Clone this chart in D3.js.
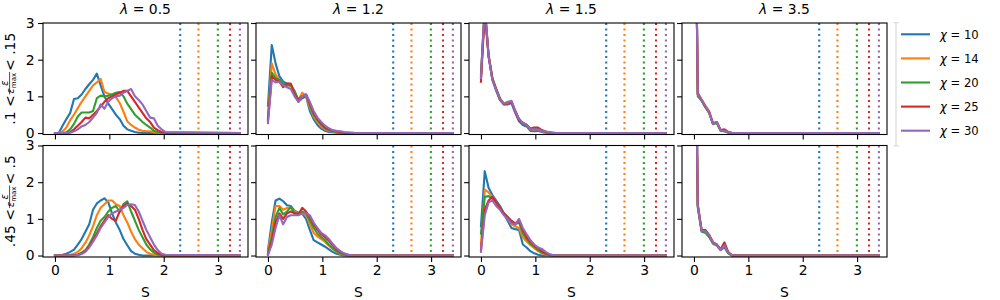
<!DOCTYPE html>
<html lang="en">
<head>
<meta charset="UTF-8">
<title>entropy histograms</title>
<script src="https://cdnjs.cloudflare.com/ajax/libs/d3/7.8.5/d3.min.js"></script>
<style>
    body { margin: 0; background: #fff; }
    svg { display: block; font-family: "DejaVu Sans", sans-serif; }
</style>
</head>
<body>
<svg width="1000" height="300"></svg>
<script>
    // ---- data ----
    const lambdas = [0.5, 1.2, 1.5, 3.5];
    const chis = [10, 14, 20, 25, 30];
    const maxS = [2.303, 2.639, 2.996, 3.219, 3.401];   // dotted lines, one per chi
    const colors = ["#1f77b4", "#ff7f0e", "#2ca02c", "#d62728", "#9467bd"];
    const xTicks = [0, 1, 2, 3];
    const yTicks = [0, 1, 2, 3];
    const rowLabels = [[".1", ".15"], [".45", ".5"]];

    // S values of the histogram points
    const sGrid = [0, 0.07, 0.14, 0.21, 0.28, 0.35, 0.42, 0.49, 0.56, 0.63, 0.7, 0.77, 0.84, 0.91, 0.98,
        1.05, 1.12, 1.19, 1.26, 1.33, 1.4, 1.47, 1.54, 1.61, 1.68, 1.75, 1.82, 1.89, 1.96, 2.03, 3.4];

    // top row: .1 < eps/epsmax < .15, one list per chi
    const low_l05 = [
        [0,0,0.2,0.38,0.55,0.93,0.95,1.05,1.2,1.33,1.45,1.62,1.3,1.0,0.8,0.65,0.5,0.38,0.2,0.1,0.06,0.03,0.01,0,0,0,0,0,0,0,0],
        [0,0,0.05,0.15,0.35,0.5,0.68,0.85,1.0,1.15,1.3,1.38,1.48,1.12,1.08,1.05,0.98,0.82,0.58,0.32,0.22,0.15,0.09,0.06,0.05,0.05,0.02,0,0,0,0],
        [0,0,0,0.02,0.1,0.25,0.45,0.56,0.56,0.56,0.6,0.95,1.02,1.0,1.02,1.05,1.1,1.12,1.0,0.8,0.65,0.5,0.4,0.3,0.22,0.15,0.06,0.02,0,0,0],
        [0,0,0,0,0.02,0.1,0.2,0.3,0.42,0.4,0.5,0.6,0.72,0.85,0.95,1.0,1.05,1.1,1.15,1.15,1.0,0.85,0.7,0.55,0.4,0.3,0.15,0.08,0.03,0.01,0],
        [0,0,0,0,0.01,0.05,0.1,0.18,0.22,0.3,0.42,0.55,0.78,0.66,0.85,0.95,1.0,1.02,1.1,1.15,1.2,1.0,0.9,0.78,0.6,0.42,0.4,0.2,0.1,0.03,0]
    ];
    const low_l12 = [
        [0.74,2.4,1.9,1.55,1.4,1.35,1.32,1.1,0.85,0.95,1.0,0.6,0.38,0.22,0.12,0.06,0.03,0.02,0.01,0,0,0,0,0,0,0,0,0,0,0,0],
        [0.43,1.9,1.6,1.45,1.35,1.3,1.3,1.1,0.9,1.1,1.0,0.7,0.45,0.3,0.18,0.1,0.06,0.04,0.02,0.01,0,0,0,0,0,0,0,0,0,0,0],
        [0.4,1.65,1.5,1.45,1.35,1.3,1.3,1.15,0.9,1.0,1.05,0.75,0.5,0.35,0.22,0.13,0.08,0.05,0.03,0.01,0,0,0,0,0,0,0,0,0,0,0],
        [0.35,1.55,1.45,1.4,1.25,1.35,1.35,1.05,0.9,1.0,1.05,0.8,0.55,0.38,0.25,0.15,0.1,0.06,0.04,0.02,0.01,0,0,0,0,0,0,0,0,0,0],
        [0.27,1.45,1.38,1.4,1.3,1.25,1.2,1.0,0.85,1.0,1.05,0.85,0.6,0.42,0.3,0.2,0.13,0.08,0.06,0.05,0.03,0.02,0.01,0,0,0,0,0,0,0,0]
    ];
    const low_l15 = [
        [1.6,3.4,2.1,1.45,1.15,0.9,0.78,0.78,0.82,0.55,0.32,0.22,0.18,0.06,0.05,0.06,0.03,0.01,0,0,0,0,0,0,0,0,0,0,0,0,0],
        [1.55,3.4,2.15,1.5,1.2,0.95,0.8,0.82,0.87,0.62,0.38,0.27,0.22,0.1,0.1,0.1,0.05,0.03,0.01,0,0,0,0,0,0,0,0,0,0,0,0],
        [1.5,3.4,2.1,1.5,1.2,0.93,0.8,0.85,0.86,0.6,0.38,0.27,0.22,0.1,0.12,0.1,0.06,0.03,0.01,0,0,0,0,0,0,0,0,0,0,0,0],
        [1.4,3.3,2.1,1.48,1.2,0.92,0.78,0.8,0.85,0.58,0.36,0.28,0.22,0.12,0.15,0.15,0.08,0.04,0.02,0,0,0,0,0,0,0,0,0,0,0,0],
        [1.5,3.5,2.1,1.45,1.18,0.92,0.8,0.82,0.88,0.6,0.38,0.28,0.23,0.1,0.1,0.1,0.06,0.04,0.02,0.01,0,0,0,0,0,0,0,0,0,0,0]
    ];
    const low_l35 = [
        [10,1.05,0.9,0.72,0.55,0.25,0.28,0.07,0.05,0.02,0,0,0,0,0,0,0,0,0,0,0,0,0,0,0,0,0,0,0,0,0],
        [10,1.1,0.92,0.75,0.6,0.27,0.3,0.08,0.06,0.02,0,0,0,0,0,0,0,0,0,0,0,0,0,0,0,0,0,0,0,0,0],
        [10,1.0,0.88,0.7,0.55,0.24,0.28,0.06,0.05,0.01,0,0,0,0,0,0,0,0,0,0,0,0,0,0,0,0,0,0,0,0,0],
        [10,1.08,0.9,0.72,0.57,0.26,0.3,0.08,0.1,0.03,0,0,0,0,0,0,0,0,0,0,0,0,0,0,0,0,0,0,0,0,0],
        [10,1.05,0.9,0.73,0.56,0.25,0.3,0.07,0.06,0.02,0,0,0,0,0,0,0,0,0,0,0,0,0,0,0,0,0,0,0,0,0]
    ];

    // bottom row: .45 < eps/epsmax < .5
    const high_l05 = [
        [0,0,0.02,0.05,0.1,0.16,0.3,0.45,0.65,0.85,1.25,1.42,1.5,1.56,1.45,1.15,0.9,0.7,0.45,0.28,0.12,0.05,0.02,0,0,0,0,0,0,0,0],
        [0,0,0,0,0.02,0.05,0.1,0.2,0.35,0.55,0.8,1.1,1.3,1.4,1.5,1.5,1.4,1.35,1.1,0.9,0.65,0.45,0.3,0.2,0.1,0.05,0.02,0,0,0,0],
        [0,0,0,0,0,0.01,0.03,0.08,0.15,0.3,0.5,0.75,0.95,1.05,1.2,1.3,1.35,1.2,1.4,1.48,1.2,0.95,0.7,0.5,0.3,0.17,0.08,0.03,0.01,0,0],
        [0,0,0,0,0,0,0.02,0.05,0.12,0.25,0.42,0.6,0.8,0.95,1.1,1.0,0.95,1.2,1.35,1.42,1.35,1.25,1.0,0.7,0.45,0.3,0.15,0.07,0.02,0,0],
        [0,0,0,0,0,0,0.01,0.04,0.1,0.22,0.38,0.55,0.75,0.9,1.05,1.15,1.2,1.25,1.3,1.38,1.4,1.38,1.2,0.95,0.7,0.5,0.3,0.15,0.05,0.02,0]
    ];
    const high_l12 = [
        [0.15,0.9,1.5,1.55,1.48,1.37,1.35,1.22,1.17,1.14,1.0,0.7,0.42,0.36,0.3,0.24,0.17,0.1,0.05,0.02,0,0,0,0,0,0,0,0,0,0,0],
        [0.1,0.7,1.35,1.35,1.25,1.3,1.3,1.2,1.15,1.15,1.1,0.85,0.62,0.52,0.45,0.37,0.27,0.18,0.1,0.05,0.02,0,0,0,0,0,0,0,0,0,0],
        [0.05,0.5,1.05,1.3,1.12,1.2,1.32,1.15,1.15,1.2,1.15,0.95,0.75,0.6,0.5,0.42,0.3,0.2,0.12,0.06,0.03,0,0,0,0,0,0,0,0,0,0],
        [0.03,0.4,0.9,1.15,1.0,1.15,1.2,1.15,1.12,1.3,1.2,1.05,0.85,0.7,0.58,0.5,0.4,0.28,0.17,0.1,0.05,0.02,0,0,0,0,0,0,0,0,0],
        [0.02,0.3,0.75,1.1,0.85,1.05,1.1,1.1,1.1,1.15,1.15,1.1,0.9,0.75,0.62,0.55,0.45,0.32,0.2,0.12,0.06,0.03,0,0,0,0,0,0,0,0,0]
    ];
    const high_l15 = [
        [0.8,2.3,1.85,1.65,1.5,1.35,1.15,0.95,0.75,0.72,0.7,0.3,0.22,0.12,0.06,0.02,0,0,0,0,0,0,0,0,0,0,0,0,0,0,0],
        [0.3,1.8,1.72,1.6,1.45,1.3,1.12,1.0,0.85,0.8,0.75,0.5,0.38,0.28,0.2,0.12,0.06,0.03,0.01,0,0,0,0,0,0,0,0,0,0,0,0],
        [0.6,1.6,1.62,1.55,1.45,1.3,1.15,1.05,0.92,0.85,0.9,0.6,0.45,0.32,0.24,0.15,0.08,0.04,0.01,0,0,0,0,0,0,0,0,0,0,0,0],
        [0.15,1.25,1.5,1.6,1.45,1.3,1.15,1.05,0.95,0.88,0.95,0.7,0.5,0.38,0.27,0.2,0.12,0.06,0.02,0,0,0,0,0,0,0,0,0,0,0,0],
        [0.1,1.1,1.45,1.5,1.35,1.25,1.1,1.0,0.88,0.85,1.0,0.75,0.58,0.42,0.3,0.22,0.18,0.1,0.04,0.01,0,0,0,0,0,0,0,0,0,0,0]
    ];
    const high_l35 = [
        [10,1.35,0.68,0.7,0.55,0.35,0.28,0.15,0.25,0.08,0,0,0,0,0,0,0,0,0,0,0,0,0,0,0,0,0,0,0,0,0],
        [10,1.4,0.7,0.65,0.55,0.36,0.3,0.16,0.3,0.08,0,0,0,0,0,0,0,0,0,0,0,0,0,0,0,0,0,0,0,0,0],
        [10,1.3,0.65,0.62,0.5,0.32,0.27,0.15,0.22,0.06,0,0,0,0,0,0,0,0,0,0,0,0,0,0,0,0,0,0,0,0,0],
        [10,1.38,0.7,0.68,0.56,0.36,0.3,0.17,0.36,0.1,0,0,0,0,0,0,0,0,0,0,0,0,0,0,0,0,0,0,0,0,0],
        [10,1.35,0.68,0.66,0.55,0.35,0.29,0.15,0.28,0.08,0,0,0,0,0,0,0,0,0,0,0,0,0,0,0,0,0,0,0,0,0]
    ];

    const panels = [
        [low_l05, low_l12, low_l15, low_l35],
        [high_l05, high_l12, high_l15, high_l35]
    ];

    // ---- layout ----
    const svg = d3.select("svg");
    const colLeft = [43, 256, 469, 682];
    const rowTop = [23, 145.5];
    const pw = 205, ph = 111.5;
    const fs = 13.9;

    const x = d3.scaleLinear().domain([-0.22, 3.55]).range([0, pw]);
    const y = d3.scaleLinear().domain([-0.04, 3]).range([ph, 0]);

    const line = d3.line()
        .x((d, i) => x(sGrid[i]))
        .y(d => y(d));

    const defs = svg.append("defs");
    defs.append("clipPath").attr("id", "clip")
        .append("rect").attr("width", pw).attr("height", ph);

    panels.forEach(function (row, r) {
        row.forEach(function (series, c) {
            let g = svg.append("g").attr("transform", `translate(${colLeft[c]},${rowTop[r]})`);

            let plot = g.append("g").attr("clip-path", "url(#clip)");

            // max entropy lines
            plot.selectAll(".vline").data(maxS).enter().append("line")
                .attr("x1", d => x(d)).attr("x2", d => x(d))
                .attr("y1", 0).attr("y2", ph)
                .attr("stroke", (d, i) => colors[i])
                .attr("stroke-width", 2.1)
                .attr("stroke-dasharray", "2.1,3.4");

            plot.selectAll(".curve").data(series).enter().append("path")
                .attr("d", d => line(d))
                .attr("fill", "none")
                .attr("stroke", (d, i) => colors[i])
                .attr("stroke-width", 2.1)
                .attr("stroke-linejoin", "round")
                .attr("stroke-linecap", "square");

            // axes
            let xa = g.append("g").attr("transform", `translate(0,${ph})`)
                .call(d3.axisBottom(x).tickValues(xTicks).tickSize(4.9).tickPadding(3.5)
                    .tickFormat(r === 1 ? d3.format("d") : () => ""));
            let ya = g.append("g")
                .call(d3.axisLeft(y).tickValues(yTicks).tickSize(4.9).tickPadding(3.5)
                    .tickFormat(c === 0 ? d3.format("d") : () => ""));
            [xa, ya].forEach(function (a) {
                a.select(".domain").remove();
                a.selectAll(".tick line").attr("stroke", "#000").attr("stroke-width", 1.1);
                a.selectAll(".tick text").attr("fill", "#000")
                    .style("font-size", fs + "px").style("font-family", "DejaVu Sans");
            });

            g.append("rect").attr("width", pw).attr("height", ph)
                .attr("fill", "none").attr("stroke", "#000").attr("stroke-width", 1.1);

            if (r === 0) {
                let t = g.append("text").attr("x", pw / 2).attr("y", -9)
                    .attr("text-anchor", "middle").style("font-size", fs + "px");
                t.append("tspan").attr("font-style", "italic").text("λ");
                t.append("tspan").text(" = " + lambdas[c]);
            }
            if (r === 1) {
                g.append("text").attr("x", pw / 2).attr("y", ph + 39.5)
                    .attr("text-anchor", "middle").style("font-size", fs + "px").text("S");
            }
        });

        epsLabel(14.5, rowTop[r] + ph / 2, rowLabels[r][0], rowLabels[r][1]);
    });

    // rotated label  lo < eps / eps_max < hi
    function epsLabel(bx, cy, lo, hi) {
        let outer = svg.append("g").attr("transform", `translate(${bx},${cy}) rotate(-90)`);
        let inner = outer.append("g");
        let pos = 0;

        let t1 = inner.append("text").attr("x", pos).attr("y", 0).style("font-size", fs + "px").text(lo + " < ");
        pos += t1.node().getComputedTextLength() + 1;

        let small = 9.7;
        let den = inner.append("text").attr("y", -0.5).style("font-size", small + "px");
        den.append("tspan").attr("font-style", "italic").text("ε");
        den.append("tspan").attr("dy", 2).style("font-size", "7px").text("max");
        den.attr("x", pos + 1);
        let dw = den.node().getComputedTextLength();
        let num = inner.append("text").attr("y", -6.8).style("font-size", small + "px")
            .attr("font-style", "italic").attr("text-anchor", "middle").text("ε");
        num.attr("x", pos + 1 + dw / 2);
        inner.append("line").attr("x1", pos).attr("x2", pos + dw + 2)
            .attr("y1", -4.9).attr("y2", -4.9).attr("stroke", "#000").attr("stroke-width", 0.7);
        pos += dw + 3;

        let t2 = inner.append("text").attr("x", pos).attr("y", 0).style("font-size", fs + "px").text(" < " + hi);
        pos += t2.node().getComputedTextLength();

        inner.attr("transform", `translate(${-pos / 2},0)`);
    }

    // ---- legend ----
    let leg = svg.append("g");
    leg.append("path")
        .attr("d", "M893.5,22.7H899M896,22.7V146M893.5,146H899")
        .attr("fill", "none").attr("stroke", "#d6d6d6").attr("stroke-width", 1.1);
    chis.forEach(function (chi, i) {
        let ly = 34.3 + i * 24.1;
        leg.append("line").attr("x1", 901).attr("x2", 930).attr("y1", ly).attr("y2", ly)
            .attr("stroke", colors[i]).attr("stroke-width", 2.1);
        let t = leg.append("text").attr("x", 940).attr("y", ly + 4.3).style("font-size", "11.6px");
        t.append("tspan").attr("font-style", "italic").text("χ");
        t.append("tspan").text(" = " + chi);
    });
</script>
</body>
</html>
